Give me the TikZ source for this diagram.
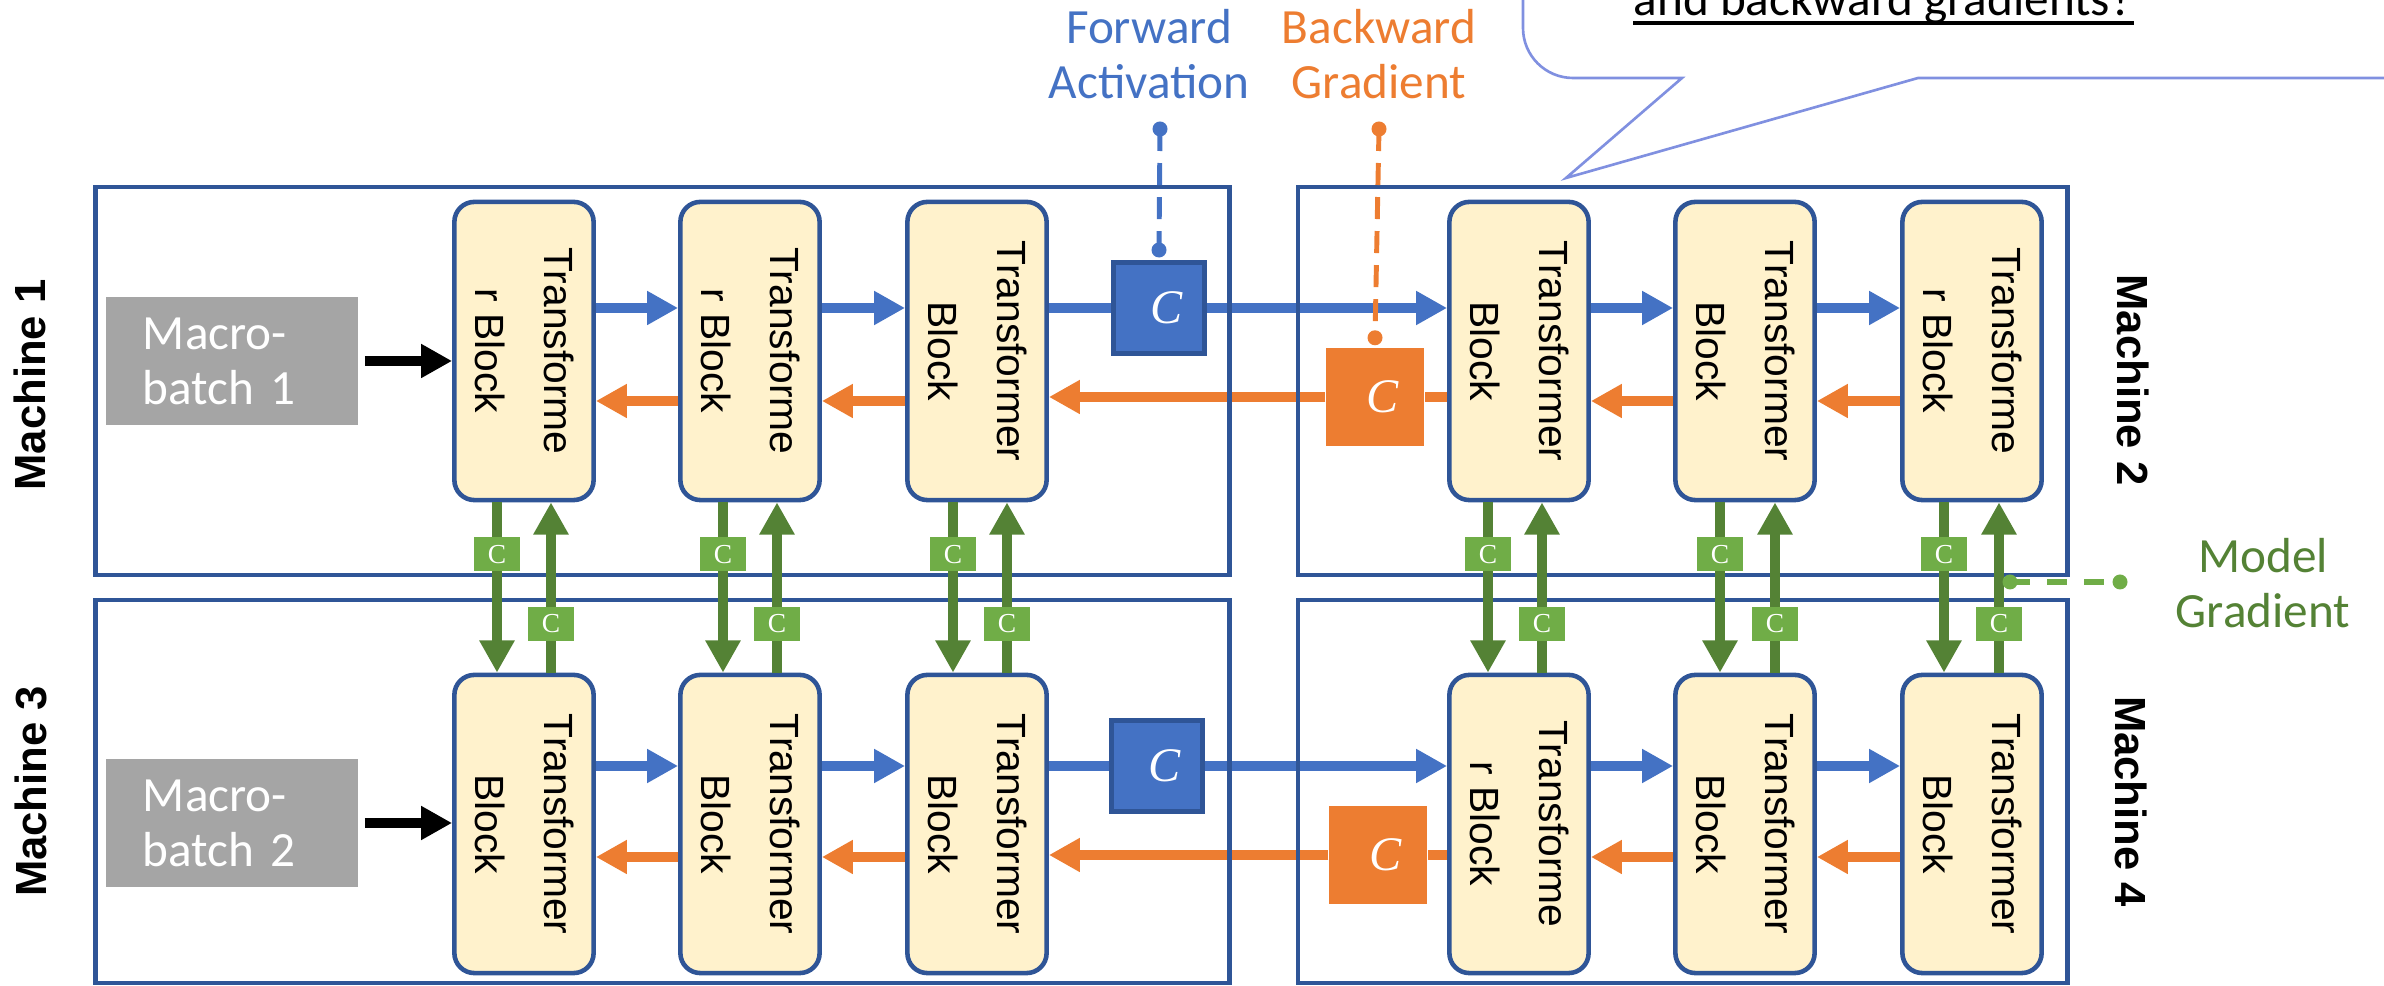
\documentclass[tikz,border=0pt]{standalone}
\usepackage{fontspec}
\setmainfont{Carlito}
\newfontfamily\blockfont{Liberation Sans}
\newfontfamily\serifc{Liberation Serif}
\usepackage{graphicx}
\usepackage{tikz}
\usetikzlibrary{arrows.meta,calc}
\definecolor{frameblue}{RGB}{47, 85, 151}
\definecolor{actblue}{RGB}{68, 114, 196}
\definecolor{gradorange}{RGB}{237, 125, 49}
\definecolor{modelgreen}{RGB}{84, 130, 53}
\definecolor{lightgreen}{RGB}{112, 173, 71}
\definecolor{blockfill}{RGB}{255, 242, 204}
\definecolor{batchgray}{RGB}{165, 165, 165}
\definecolor{calloutblue}{RGB}{128, 144, 224}

% two-line block label, read top to bottom
\newcommand{\tblock}[2]{\rotatebox{-90}{\blockfont\fontsize{11.6}{19.8}\selectfont
  \begin{tabular}{@{}c@{}}#1\\#2\end{tabular}}}
\newcommand{\bigC}{\hspace{0.16cm}{\serifc\itshape\fontsize{13.7}{13.7}\selectfont C}}

\begin{document}
\begin{tikzpicture}[x=0.01cm, y=-0.01cm,
    block/.style={draw=frameblue, line width=1.3pt, fill=blockfill, rounded corners=0.2cm,
                  minimum width=1.25cm, minimum height=2.98cm, inner sep=0pt},
    frame/.style={draw=frameblue, line width=1.3pt, inner sep=0pt},
    batch/.style={fill=batchgray, text=white, minimum height=1.28cm, text width=1.78cm,
                  inner xsep=0.37cm, align=left, font=\fontsize{14}{15.6}\selectfont},
    actc/.style={fill=actblue, draw=frameblue, line width=1.4pt, minimum size=0.91cm,
                 inner sep=0pt, text=white},
    gradc/.style={fill=gradorange, minimum width=0.98cm, minimum height=0.97cm,
                  inner sep=0pt, text=white},
    gc/.style={fill=lightgreen, text=white, minimum width=0.46cm, minimum height=0.34cm,
               inner sep=0pt, font=\serifc\fontsize{7.8}{7.8}\selectfont},
    fwdarrow/.style={actblue, line width=2.6pt, -{Triangle[length=8.8pt, width=9.1pt]}},
    fwdline/.style={actblue, line width=2.6pt},
    bwdarrow/.style={gradorange, line width=2.6pt, -{Triangle[length=8.8pt, width=9.1pt]}},
    bwdline/.style={gradorange, line width=2.6pt},
    inarrow/.style={black, line width=2.85pt, shorten <=0.06cm, -{Triangle[length=8.8pt, width=9.1pt]}},
    gradarrow/.style={modelgreen, line width=3pt, -{Triangle[length=9.2pt, width=9.5pt]}},
    gradline/.style={modelgreen, line width=3pt},
    lead/.style={line width=1.4pt, dash pattern=on 0.22cm off 0.12cm},
    mlabel/.style={font=\blockfont\bfseries\fontsize{12.4}{12.4}\selectfont},
    tag/.style={anchor=north, inner sep=0pt, align=center, font=\fontsize{14}{15.5}\selectfont},
    callout/.style={calloutblue, line width=0.75pt}]
  \useasboundingbox (0,0) rectangle (2384,986);
  \clip (0,0) rectangle (2384,986);

  % Question bubble
  \draw[callout] (1523,-20) -- (1523,28) arc[start angle=180, end angle=90, radius=50]
       -- (1682,78) -- (1566,178) -- (1918,78) -- (2400,78);
  \node[anchor=base west, inner sep=0pt, font=\fontsize{14}{14}\selectfont] (cq) at (1633,16)
       {and backward gradients?};
  \draw[line width=0.9pt] ($(cq.base west)+(0,7)$) -- ($(cq.base east)+(0,7)$);

  % Blocks, row 1
  \node[block] (b11) at ( 524,351) {\tblock{Transforme}{r Block}};
  \node[block] (b12) at ( 750,351) {\tblock{Transforme}{r Block}};
  \node[block] (b13) at ( 977,351) {\tblock{Transformer}{Block}};
  \node[block] (b14) at (1519,351) {\tblock{Transformer}{Block}};
  \node[block] (b15) at (1745,351) {\tblock{Transformer}{Block}};
  \node[block] (b16) at (1972,351) {\tblock{Transforme}{r Block}};
  % Blocks, row 2
  \node[block] (b21) at ( 524,824) {\tblock{Transformer}{Block}};
  \node[block] (b22) at ( 750,824) {\tblock{Transformer}{Block}};
  \node[block] (b23) at ( 977,824) {\tblock{Transformer}{Block}};
  \node[block] (b24) at (1519,824) {\tblock{Transforme}{r Block}};
  \node[block] (b25) at (1745,824) {\tblock{Transformer}{Block}};
  \node[block] (b26) at (1972,824) {\tblock{Transformer}{Block}};

  % Macro-batches
  \node[batch] (mb1) at (232,361) {Macro-\\batch 1};
  \node[batch] (mb2) at (232,823) {Macro-\\batch 2};
  \draw[inarrow] (mb1.east) -- (mb1.east -| b11.west);
  \draw[inarrow] (mb2.east) -- (mb2.east -| b21.west);

  % Compression between machines
  \node[actc]  (cf1) at (1159,308) {\bigC};
  \node[gradc] (cb1) at (1375,397) {\bigC};
  \node[actc]  (cf2) at (1157,766) {\bigC};
  \node[gradc] (cb2) at (1378,855) {\bigC};

  % Arrow heights
  \coordinate (fa1) at (0,308);
  \coordinate (bg1) at (0,401);
  \coordinate (fa2) at (0,766);
  \coordinate (bg2) at (0,857);

  % Forward activations
  \draw[fwdarrow] (b11.east |- fa1) -- (b12.west |- fa1);
  \draw[fwdarrow] (b12.east |- fa1) -- (b13.west |- fa1);
  \draw[fwdline]  (b13.east |- fa1) -- (cf1.west);
  \draw[fwdarrow] (cf1.east)        -- (b14.west |- fa1);
  \draw[fwdarrow] (b14.east |- fa1) -- (b15.west |- fa1);
  \draw[fwdarrow] (b15.east |- fa1) -- (b16.west |- fa1);
  \draw[fwdarrow] (b21.east |- fa2) -- (b22.west |- fa2);
  \draw[fwdarrow] (b22.east |- fa2) -- (b23.west |- fa2);
  \draw[fwdline]  (b23.east |- fa2) -- (cf2.west);
  \draw[fwdarrow] (cf2.east)        -- (b24.west |- fa2);
  \draw[fwdarrow] (b24.east |- fa2) -- (b25.west |- fa2);
  \draw[fwdarrow] (b25.east |- fa2) -- (b26.west |- fa2);

  % Backward gradients
  \draw[bwdarrow] (b12.west |- bg1) -- (b11.east |- bg1);
  \draw[bwdarrow] (b13.west |- bg1) -- (b12.east |- bg1);
  \draw[bwdarrow] (cb1.west)        -- (b13.east |- cb1);
  \draw[bwdline]  (b14.west |- cb1) -- (cb1.east);
  \draw[bwdarrow] (b15.west |- bg1) -- (b14.east |- bg1);
  \draw[bwdarrow] (b16.west |- bg1) -- (b15.east |- bg1);
  \draw[bwdarrow] (b22.west |- bg2) -- (b21.east |- bg2);
  \draw[bwdarrow] (b23.west |- bg2) -- (b22.east |- bg2);
  \draw[bwdarrow] (cb2.west)        -- (b23.east |- cb2);
  \draw[bwdline]  (b24.west |- cb2) -- (cb2.east);
  \draw[bwdarrow] (b25.west |- bg2) -- (b24.east |- bg2);
  \draw[bwdarrow] (b26.west |- bg2) -- (b25.east |- bg2);

  % Machines
  \node[frame, minimum width=11.33cm, minimum height=3.88cm] (m1) at ( 662.5,381) {};
  \node[frame, minimum width=7.69cm,  minimum height=3.88cm] (m2) at (1682.5,381) {};
  \node[frame, minimum width=11.33cm, minimum height=3.83cm] (m3) at ( 662.5,791.5) {};
  \node[frame, minimum width=7.69cm,  minimum height=3.83cm] (m4) at (1682.5,791.5) {};
  \node[mlabel, rotate=90]  (m1lab) at ($(m1.west)+(-63,4)$)  {Machine 1};
  \node[mlabel, rotate=-90] (m2lab) at ($(m2.east)+(64,-1)$)  {Machine 2};
  \node[mlabel, rotate=90]  (m3lab) at ($(m3.west)+(-62,0)$)  {Machine 3};
  \node[mlabel, rotate=-90] (m4lab) at ($(m4.east)+(62,10)$)  {Machine 4};

  % Model gradients, column by column
  \draw[gradarrow] ($(b11.south)+(-27,0)$) -- ($(b21.north)+(-27,0)$);
  \draw[gradarrow] ($(b21.north)+( 27,0)$) -- ($(b11.south)+( 27,0)$);
  \draw[gradarrow] ($(b12.south)+(-27,0)$) -- ($(b22.north)+(-27,0)$);
  \draw[gradarrow] ($(b22.north)+( 27,0)$) -- ($(b12.south)+( 27,0)$);
  \draw[gradarrow] ($(b13.south)+(-24,0)$) -- ($(b23.north)+(-24,0)$);
  \draw[gradarrow] ($(b23.north)+( 30,0)$) -- ($(b13.south)+( 30,0)$);
  \draw[gradarrow] ($(b14.south)+(-31,0)$) -- ($(b24.north)+(-31,0)$);
  \draw[gradarrow] ($(b24.north)+( 23,0)$) -- ($(b14.south)+( 23,0)$);
  \draw[gradarrow] ($(b15.south)+(-25,0)$) -- ($(b25.north)+(-25,0)$);
  \draw[gradarrow] ($(b25.north)+( 30,0)$) -- ($(b15.south)+( 30,0)$);
  \draw[gradarrow] ($(b16.south)+(-28,0)$) -- ($(b26.north)+(-28,0)$);
  \draw[gradarrow] ($(b26.north)+( 27,0)$) -- ($(b16.south)+( 27,0)$);
  \node[gc] (gd1) at ($(b11.south)+(-27,52)$) {C};
  \node[gc] (gu1) at ($(b21.north)+( 27,-49)$) {C};
  \node[gc] (gd2) at ($(b12.south)+(-27,52)$) {C};
  \node[gc] (gu2) at ($(b22.north)+( 27,-49)$) {C};
  \node[gc] (gd3) at ($(b13.south)+(-24,52)$) {C};
  \node[gc] (gu3) at ($(b23.north)+( 30,-49)$) {C};
  \node[gc] (gd4) at ($(b14.south)+(-31,52)$) {C};
  \node[gc] (gu4) at ($(b24.north)+( 23,-49)$) {C};
  \node[gc] (gd5) at ($(b15.south)+(-25,52)$) {C};
  \node[gc] (gu5) at ($(b25.north)+( 30,-49)$) {C};
  \node[gc] (gd6) at ($(b16.south)+(-28,52)$) {C};
  \node[gc] (gu6) at ($(b26.north)+( 27,-49)$) {C};

  % Legend tags
  \node[tag, text=actblue]    (fwdlab) at (1149,9)   {Forward\\Activation};
  \node[tag, text=gradorange] (bwdlab) at (1379,9)   {Backward\\Gradient};
  \node[tag, text=modelgreen] (mglab)  at (2263,538) {Model\\Gradient};
  \coordinate (fwdtop) at (1160,129);
  \coordinate (bwdtop) at (1379,129);
  \coordinate (mgdot)  at (2010,582);
  \coordinate (mgend)  at (2120,582);
  \draw[lead, actblue]    (fwdtop) -- ($(cf1.north)+(0,-10)$);
  \fill[actblue]    (fwdtop) circle (7.5) ($(cf1.north)+(0,-10)$) circle (7.5);
  \draw[lead, gradorange] (bwdtop) -- ($(cb1.north)+(0,-10)$);
  \fill[gradorange] (bwdtop) circle (7.5) ($(cb1.north)+(0,-10)$) circle (7.5);
  \draw[lightgreen, line width=1.7pt, dash pattern=on 0.2cm off 0.17cm] (mgdot) -- (mgend);
  \fill[lightgreen] (mgdot) circle (7.5) (mgend) circle (7.5);
\end{tikzpicture}
\end{document}
